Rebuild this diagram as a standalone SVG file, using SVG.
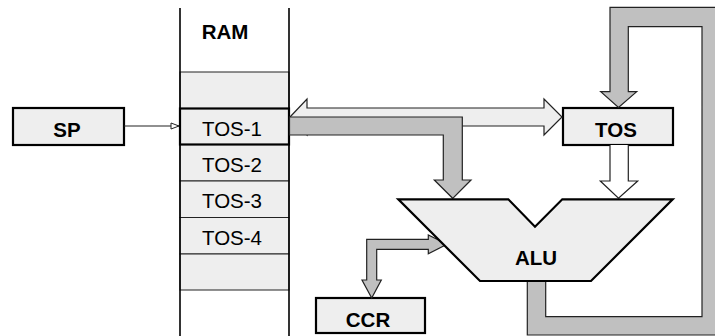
<svg xmlns="http://www.w3.org/2000/svg" width="715" height="336" viewBox="0 0 715 336">
<defs>
<style>
.lbl{font-family:"Liberation Sans",Arial,sans-serif;font-size:20.5px;fill:#000;text-anchor:middle}
.b{font-weight:bold}
.cell{fill:#eeeeee;stroke:#222;stroke-width:1}
.box{fill:#eeeeee;stroke:#000;stroke-width:2.2}
.gray{fill:#c0c0c0;stroke:#222;stroke-width:1.2;stroke-linejoin:miter}
.light{fill:#eeeeee;stroke:#222;stroke-width:1.2}
.white{fill:#ffffff;stroke:#222;stroke-width:1.2}
</style>
<marker id="open" markerWidth="10" markerHeight="8" refX="9" refY="4" orient="auto" markerUnits="userSpaceOnUse">
<path d="M1,1 L9,4 L1,7 Z" fill="#fff" stroke="#222" stroke-width="1"/>
</marker>
</defs>
<rect width="715" height="336" fill="#fff"/>
<g id="ram">
<rect class="cell" x="180" y="72" width="109" height="36.5"/>
<rect class="cell" x="180" y="144.5" width="109" height="36.5"/>
<rect class="cell" x="180" y="181" width="109" height="36.5"/>
<rect class="cell" x="180" y="217.5" width="109" height="36.5"/>
<rect class="cell" x="180" y="254" width="109" height="36"/>
<line x1="180" y1="8" x2="180" y2="336" stroke="#000" stroke-width="1.6"/>
<line x1="289" y1="8" x2="289" y2="336" stroke="#000" stroke-width="1.6"/>
<text class="lbl b" x="225" y="38.5">RAM</text>
</g>
<g id="tos1">
<rect x="180" y="108.5" width="109" height="36" fill="#eeeeee" stroke="#000" stroke-width="2.2"/>
<text class="lbl" x="232" y="135.7">TOS-1</text>
</g>
<g id="tos2"><text class="lbl" x="232" y="172.3">TOS-2</text></g>
<g id="tos3"><text class="lbl" x="232" y="208.3">TOS-3</text></g>
<g id="tos4"><text class="lbl" x="232" y="245">TOS-4</text></g>
<g id="sp">
<rect class="box" x="13" y="108" width="111" height="37"/>
<text class="lbl b" x="67" y="136.7">SP</text>
</g>
<g id="tos">
<rect class="box" x="563" y="108" width="110" height="37"/>
<text class="lbl b" x="616" y="136.7">TOS</text>
</g>
<g id="ccr">
<rect class="box" x="316" y="298" width="109" height="35"/>
<text class="lbl b" x="368" y="327.3">CCR</text>
</g>
<g id="connectors">
<line x1="124" y1="126" x2="179" y2="126" stroke="#222" stroke-width="1.2" marker-end="url(#open)"/>
<path class="light" d="M290,117 L307,99 L307,108 L544,108 L544,99 L562,117 L544,135 L544,126 L307,126 L307,135 Z"/>
<path class="gray" d="M289.5,117 L462.3,117 L462.3,180 L471,180 L452.7,198.3 L434.3,180 L443.3,180 L443.3,135 L289.5,135 Z"/>
<path class="white" d="M610,145 L610,181 L600.3,181 L618.5,198.3 L637.7,181 L628.3,181 L628.3,145"/>
<path class="gray" d="M527.3,281 L527.3,335 L720,335 L720,7.3 L610,7.3 L610,91.7 L600.7,91.7 L618.5,107.5 L636.7,91.7 L628.3,91.7 L628.3,26.7 L702,26.7 L702,316.7 L545.7,316.7 L545.7,281 Z"/>
<path class="gray" d="M366.7,280 L366.7,239.3 L428.3,239.3 L428.3,235 L447,244.3 L428.3,253.7 L428.3,249.3 L376.7,249.3 L376.7,280 L381.3,280 L371.7,298 L362,280 Z"/>
</g>
<g id="alu">
<path d="M398.3,199.3 L508.3,199.3 L535,226.7 L562.3,199.3 L672.7,199.3 L591,281 L480,281 Z" fill="#eeeeee" stroke="#000" stroke-width="2.2" stroke-linejoin="miter"/>
<text class="lbl b" x="536" y="265">ALU</text>
</g>
</svg>
